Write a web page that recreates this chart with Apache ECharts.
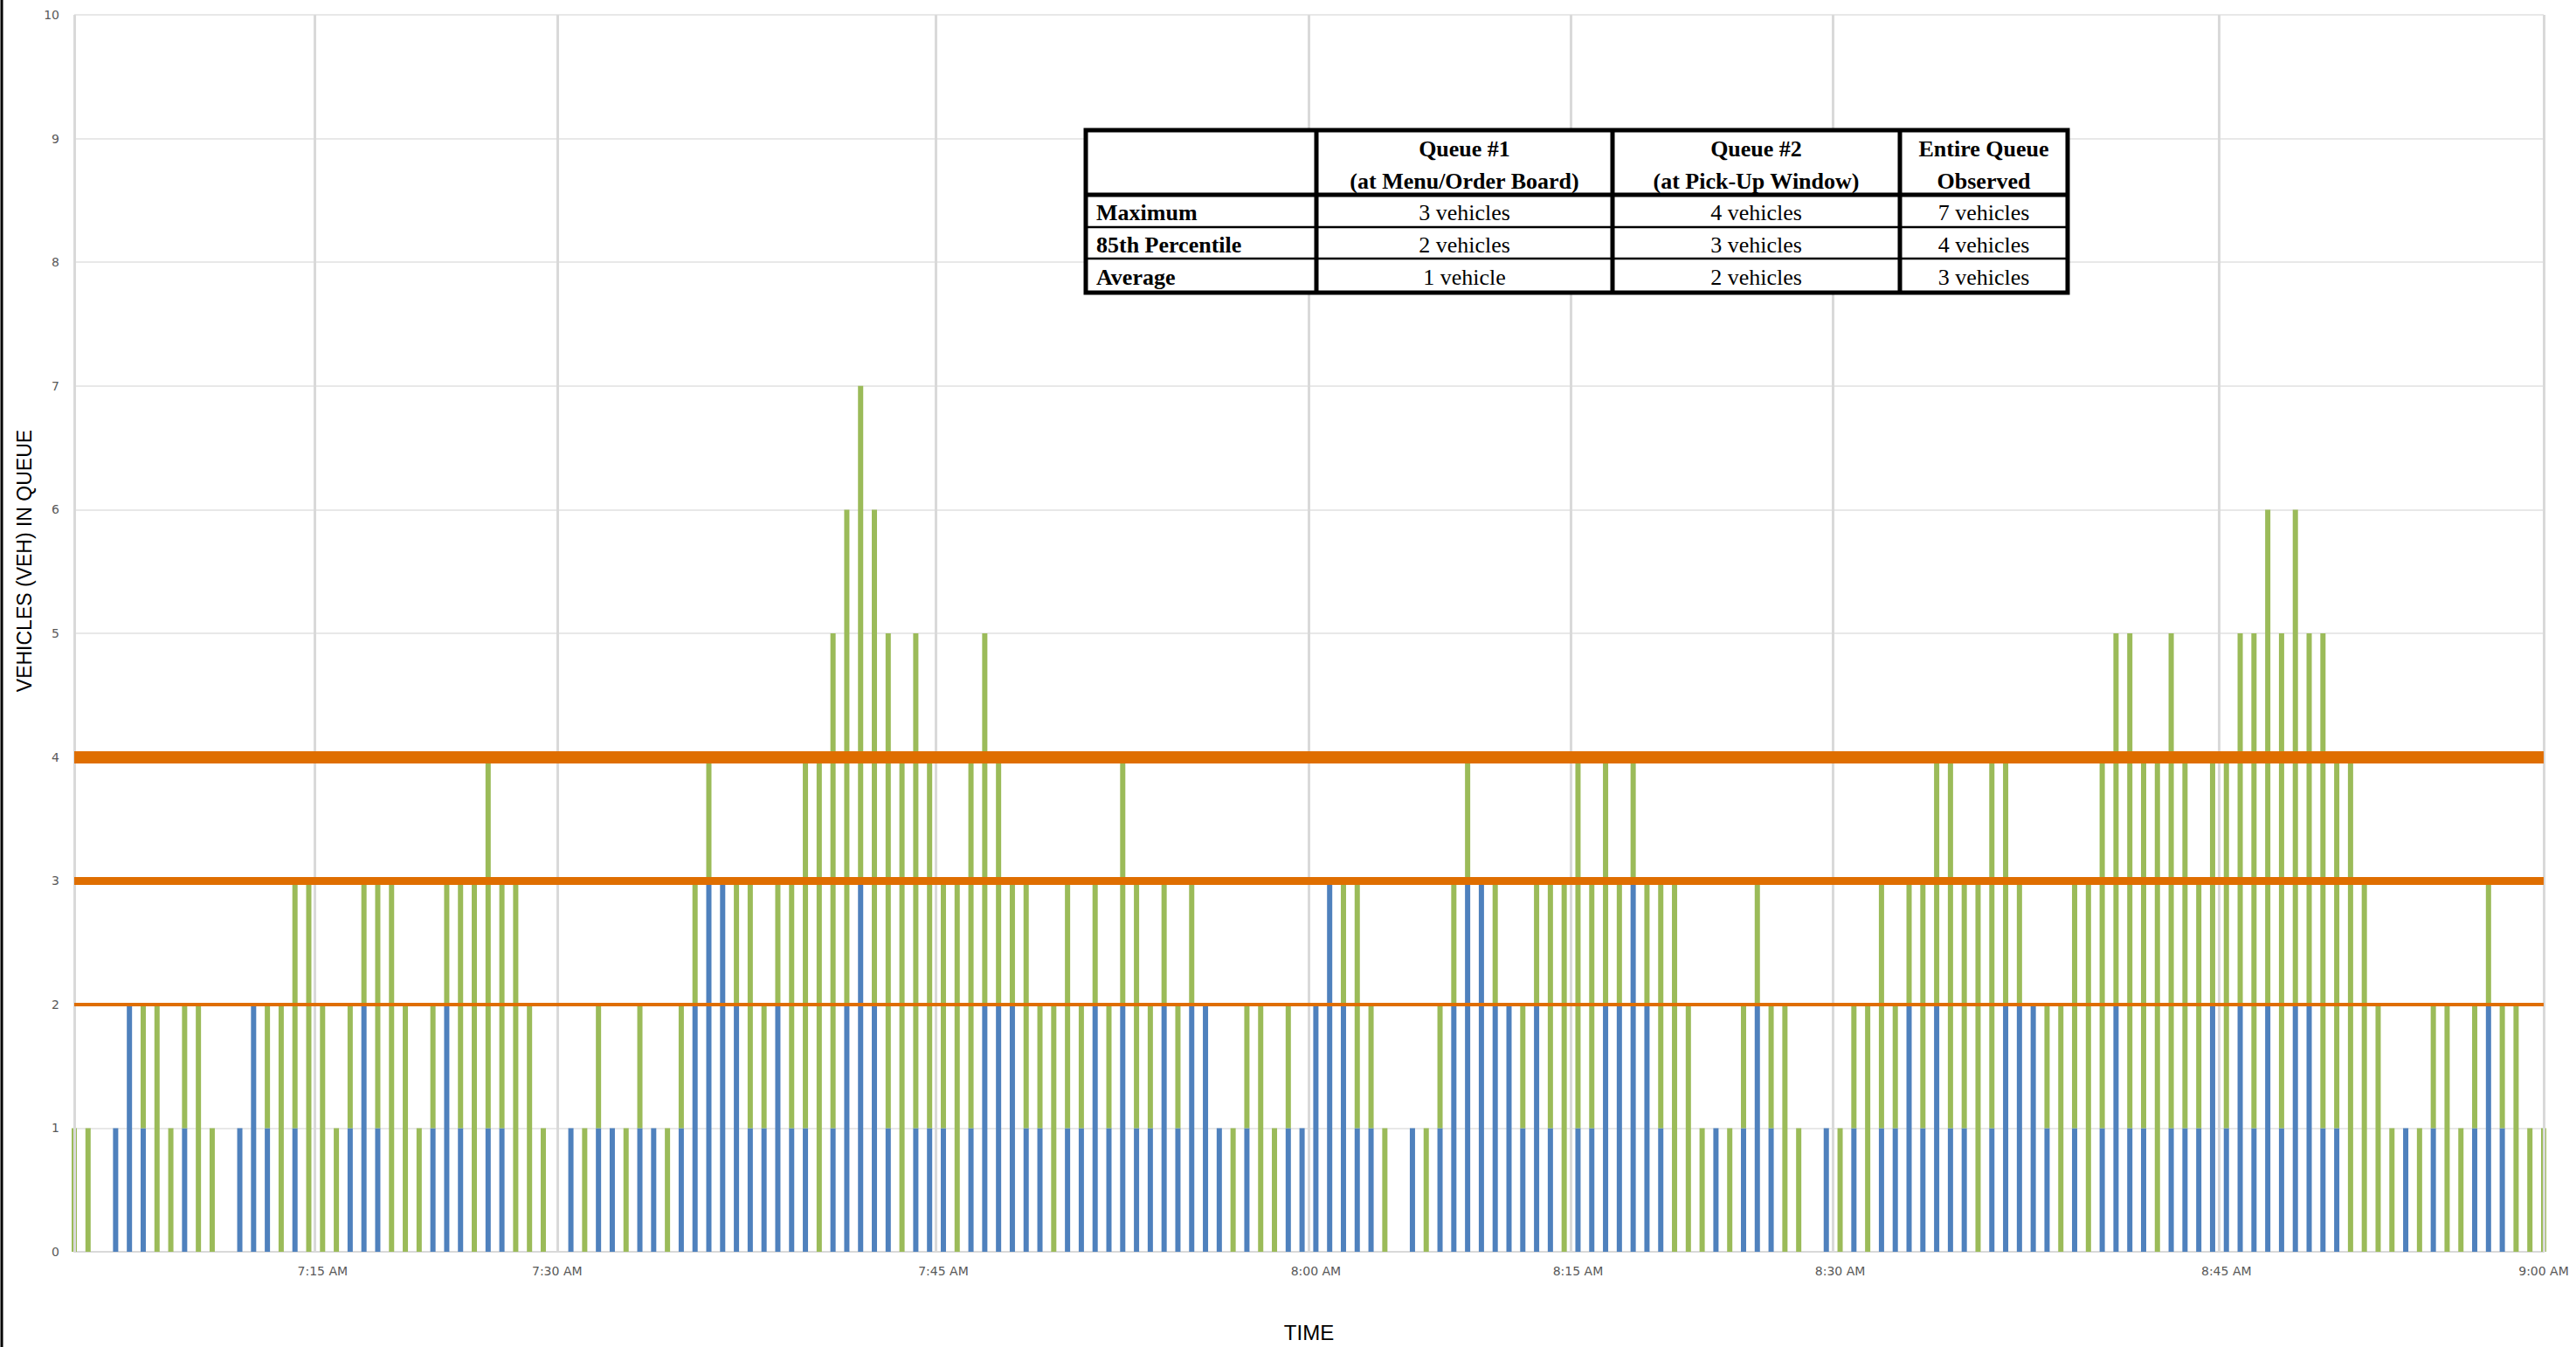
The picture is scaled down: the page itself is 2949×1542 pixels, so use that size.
<!DOCTYPE html>
<html>
<head>
<meta charset="utf-8">
<script src="https://cdn.jsdelivr.net/npm/echarts@6/dist/echarts.min.js"></script>
<style>
html,body{margin:0;padding:0;background:#fff;}
#main{width:2949px;height:1542px;}
</style>
</head>
<body>
<div id="main"></div>
<script>
// ---- DATA ----
// Queue #1 (at Menu/Order Board), vehicles per observation slot (blue)
const queue1 = [
0,0,0,1,2,1,0,0,1,0, 0,0,1,2,1,0,1,0,0,0, 1,2,1,0,0,0,1,2,1,0,
1,1,0,0,0,0,1,0,1,1, 0,1,1,0,1,2,3,3,2,1, 1,2,1,1,0,1,2,3,2,1,
0,1,1,1,0,1,2,2,2,1, 1,0,1,1,2,1,2,1,1,2, 1,2,2,1,0,1,0,0,1,1,
2,3,2,1,1,0,0,1,0,1, 2,3,3,2,2,1,2,1,0,1, 1,2,2,3,2,1,0,0,0,1,
0,1,2,1,0,0,0,1,0,1, 0,1,1,2,1,2,1,1,0,1, 2,2,2,1,0,1,0,1,2,1,
1,0,1,1,1,2,1,2,1,2, 1,2,2,1,1,0,0,0,0,1, 0,1,0,0,1,2,1,0,0,0
];
// Queue #2 (at Pick-Up Window), vehicles per observation slot (green, stacked on top)
const queue2 = [
1,1,0,0,0,1,2,1,1,2, 1,0,0,0,1,2,2,3,2,1, 1,1,2,3,2,1,1,1,2,3,
3,2,3,2,1,0,0,1,1,0, 1,1,0,1,1,1,1,0,1,2, 1,1,2,3,4,4,4,4,4,4,
4,4,3,2,3,3,3,2,1,2, 1,2,2,1,1,1,2,2,1,1, 1,1,0,0,1,1,2,1,1,0,
0,0,1,2,1,1,0,0,1,1, 1,1,0,1,0,1,1,2,3,3, 2,2,1,1,1,2,3,2,1,0,
1,1,1,1,2,1,0,0,1,1, 2,2,1,1,2,2,3,2,3,3, 2,1,0,1,2,2,3,3,3,4,
3,4,4,3,2,2,3,3,4,4, 4,4,3,4,3,4,3,2,1,0, 1,1,2,1,1,1,1,2,1,1
];
// time-axis tick labels and the observation slot each one labels
const tickLabels = ['7:15 AM','7:30 AM','7:45 AM','8:00 AM','8:15 AM','8:30 AM','8:45 AM','9:00 AM'];
const tickSlots  = [18, 35, 63, 90, 109, 128, 156, 179];
// vertical gridline positions (in slot units)
const gridlineSlots = [0, 17.42, 35, 62.43, 89.51, 108.47, 127.47, 155.49, 179];
// statistics reference lines (vehicles)
const refLevels = [4, 3, 2];
// summary table
const tableHeader = ['', 'Queue #1\n(at Menu/Order Board)', 'Queue #2\n(at Pick-Up Window)', 'Entire Queue\nObserved'];
const tableRowLabels = ['Maximum', '85th Percentile', 'Average'];
const tableQueue1 = ['3 vehicles', '2 vehicles', '1 vehicle'];
const tableQueue2 = ['4 vehicles', '3 vehicles', '2 vehicles'];
const tableEntire = ['7 vehicles', '4 vehicles', '3 vehicles'];

// ---- BUILD ----
const categories = queue1.map(() => '');
tickSlots.forEach((s, k) => { categories[s] = tickLabels[k]; });

const refWidths = [14, 9, 4];

// table graphic
const tx = 1243, ty = 149;
const colX = [0, 264, 603, 932, 1124];
const rowY = [0, 74, 111, 147, 186];
const serif = "'Liberation Serif','Times New Roman',serif";
const TZ = 50;
const tableEls = [];
tableEls.push({type:'rect', z:TZ, shape:{x:0,y:0,width:1124,height:186}, style:{fill:'#fff', stroke:'#000', lineWidth:5}});
[1,2,3].forEach(c => tableEls.push({type:'line', z:TZ+1, shape:{x1:colX[c],y1:0,x2:colX[c],y2:186}, style:{stroke:'#000', lineWidth:5}}));
tableEls.push({type:'line', z:TZ+1, shape:{x1:0,y1:rowY[1],x2:1124,y2:rowY[1]}, style:{stroke:'#000', lineWidth:5}});
[2,3].forEach(r => tableEls.push({type:'line', z:TZ+1, shape:{x1:0,y1:rowY[r],x2:1124,y2:rowY[r]}, style:{stroke:'#000', lineWidth:2.5}}));
tableHeader.forEach((h, c) => {
  if (!h) return;
  tableEls.push({type:'text', z:TZ+2, x:(colX[c]+colX[c+1])/2, y:(rowY[0]+rowY[1])/2 + 3,
    style:{text:h, fill:'#000', font:"bold 26px " + serif, align:'center', verticalAlign:'middle', lineHeight:37}});
});
const cols = [tableRowLabels, tableQueue1, tableQueue2, tableEntire];
cols.forEach((col, c) => {
  col.forEach((v, r) => {
    const cy = (rowY[r+1] + rowY[r+2]) / 2 + 2;
    if (c === 0) {
      tableEls.push({type:'text', z:TZ+2, x:12, y:cy, style:{text:v, fill:'#000', font:"bold 26px " + serif, align:'left', verticalAlign:'middle'}});
    } else {
      tableEls.push({type:'text', z:TZ+2, x:(colX[c]+colX[c+1])/2, y:cy, style:{text:v, fill:'#000', font:"26px " + serif, align:'center', verticalAlign:'middle'}});
    }
  });
});

const chart = echarts.init(document.getElementById('main'), null, {renderer:'svg'});
const option = {
  animation: false,
  backgroundColor: '#fff',
  grid: {left: 85, right: 37, top: 17, bottom: 109, containLabel: false},
  xAxis: [
    {
      type: 'category', data: categories, boundaryGap: false,
      axisTick: {show: false},
      axisLine: {show: true, lineStyle: {color: '#d9d9d9', width: 2}},
      splitLine: {show: false},
      axisLabel: {
        interval: (i, v) => v !== '',
        color: '#595959', fontFamily: "'DejaVu Sans', sans-serif", fontSize: 14, margin: 15
      },
      name: 'TIME', nameLocation: 'middle', nameGap: 80,
      nameTextStyle: {color: '#000', fontFamily: "'Liberation Sans Narrow','Arial Narrow','Liberation Sans',sans-serif", fontSize: 24}
    },
    { type: 'value', min: 0, max: queue1.length - 1, show: false }
  ],
  yAxis: {
    type: 'value', min: 0, max: 10, interval: 1,
    axisLine: {show: false}, axisTick: {show: false},
    splitLine: {lineStyle: {color: '#e0e0e0', width: 1.5}},
    axisLabel: {color: '#595959', fontFamily: "'DejaVu Sans', sans-serif", fontSize: 14, margin: 17}
  },
  series: [
    {
      type: 'line', xAxisIndex: 1, data: [[0, 0]], showSymbol: false, symbol: 'none',
      lineStyle: {opacity: 0}, silent: true, z: 1,
      markLine: {
        silent: true, symbol: ['none', 'none'], label: {show: false},
        lineStyle: {color: '#d9d9d9', width: 3, type: 'solid'},
        data: gridlineSlots.map(v => ({xAxis: v}))
      }
    },
    {
      name: 'Queue #1', type: 'bar', stack: 'q', data: queue1, barWidth: 6,
      itemStyle: {color: '#4F81BD'}, z: 2, clip: true
    },
    {
      name: 'Queue #2', type: 'bar', stack: 'q', data: queue2, barWidth: 6,
      itemStyle: {color: '#9BBB59'}, z: 2, clip: true
    },
    {
      type: 'line', xAxisIndex: 1, data: [[0, 0]], showSymbol: false, symbol: 'none',
      lineStyle: {opacity: 0}, silent: true, z: 5,
      markLine: {
        silent: true, symbol: ['none', 'none'], label: {show: false},
        data: refLevels.map((v, k) => ({yAxis: v, lineStyle: {color: '#DF6E00', width: refWidths[k], type: 'solid'}}))
      }
    }
  ],
  graphic: [
    {type: 'line', shape: {x1: 2, y1: 0, x2: 2, y2: 1542}, style: {stroke: '#000', lineWidth: 3}, z: 10},
    {type: 'text', x: 28, y: 642, rotation: Math.PI / 2, z: 10,
      style: {text: 'VEHICLES (VEH) IN QUEUE', fill: '#000', font: "23px 'Liberation Sans', Arial, sans-serif", align: 'center', verticalAlign: 'middle'}},
    {type: 'group', x: tx, y: ty, z: TZ, children: tableEls}
  ]
};
chart.setOption(option);
</script>
</body>
</html>
